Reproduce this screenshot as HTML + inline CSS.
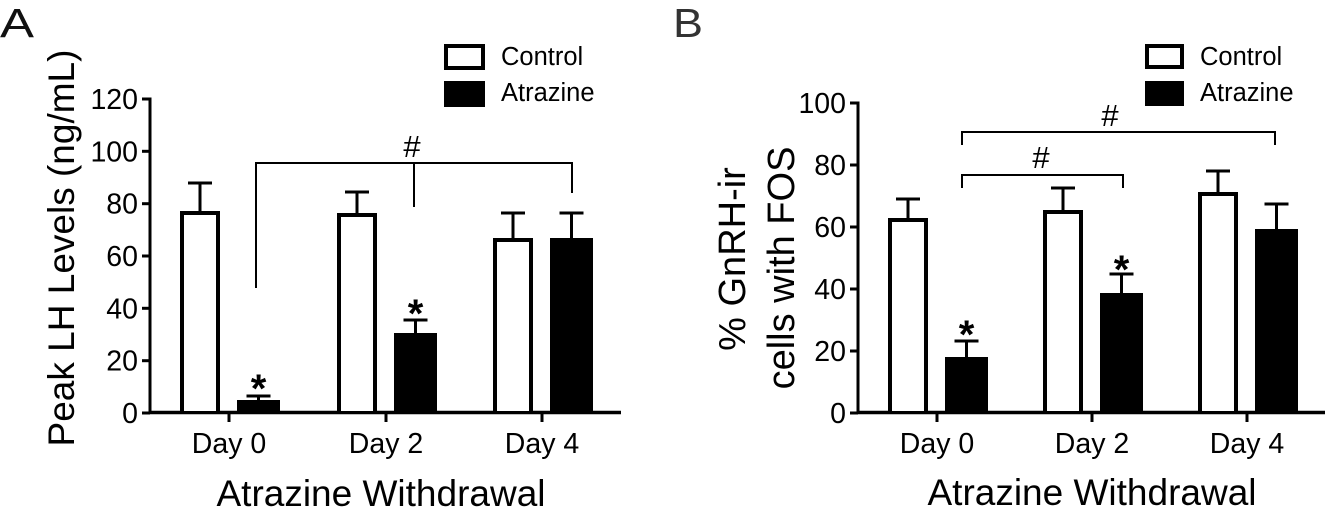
<!DOCTYPE html>
<html>
<head>
<meta charset="utf-8">
<style>
html,body{margin:0;padding:0;background:#fff;}
svg{display:block;}
text{font-family:"Liberation Sans",Arial,Helvetica,sans-serif;fill:#000;}
</style>
</head>
<body>
<svg width="1325" height="511" viewBox="0 0 1325 511" xmlns="http://www.w3.org/2000/svg">
<rect x="0" y="0" width="1325" height="511" fill="#fff"/>

<!-- Panel letters -->
<text x="0" y="37" font-size="41" textLength="34" lengthAdjust="spacingAndGlyphs" style="fill:#111">A</text>
<text x="673" y="37" font-size="41" textLength="30" lengthAdjust="spacingAndGlyphs" style="fill:#333">B</text>

<!-- ================= PANEL A ================= -->
<text transform="translate(74,248) rotate(-90)" text-anchor="middle" font-size="37">Peak LH Levels (ng/mL)</text>

<g stroke="#000" fill="none">
  <line x1="150" y1="97.5" x2="150" y2="414" stroke-width="3"/>
  <line x1="148.5" y1="412.5" x2="621" y2="412.5" stroke-width="3.5"/>
  <line x1="142" y1="99" x2="150" y2="99" stroke-width="3"/>
  <line x1="142" y1="151.3" x2="150" y2="151.3" stroke-width="3"/>
  <line x1="142" y1="203.7" x2="150" y2="203.7" stroke-width="3"/>
  <line x1="142" y1="256" x2="150" y2="256" stroke-width="3"/>
  <line x1="142" y1="308.3" x2="150" y2="308.3" stroke-width="3"/>
  <line x1="142" y1="360.7" x2="150" y2="360.7" stroke-width="3"/>
  <line x1="142" y1="413" x2="150" y2="413" stroke-width="3"/>
  <line x1="229" y1="413" x2="229" y2="422" stroke-width="3"/>
  <line x1="386" y1="413" x2="386" y2="422" stroke-width="3"/>
  <line x1="542" y1="413" x2="542" y2="422" stroke-width="3"/>
</g>
<g font-size="28.5" text-anchor="end">
  <text x="138" y="109">120</text>
  <text x="138" y="161.3">100</text>
  <text x="138" y="213.7">80</text>
  <text x="138" y="266">60</text>
  <text x="138" y="318.3">40</text>
  <text x="138" y="370.7">20</text>
  <text x="138" y="423">0</text>
</g>
<g font-size="28.5" text-anchor="middle">
  <text x="229" y="453">Day 0</text>
  <text x="386" y="453">Day 2</text>
  <text x="542" y="453">Day 4</text>
</g>
<text x="381" y="506" font-size="37" text-anchor="middle">Atrazine Withdrawal</text>

<g stroke="#000" stroke-width="3" fill="none">
  <line x1="200" y1="183" x2="200" y2="212"/><line x1="188" y1="183" x2="212" y2="183"/>
  <line x1="258.5" y1="396" x2="258.5" y2="401"/><line x1="246.5" y1="396" x2="270.5" y2="396"/>
  <line x1="357" y1="192" x2="357" y2="214"/><line x1="345" y1="192" x2="369" y2="192"/>
  <line x1="415.5" y1="320" x2="415.5" y2="334"/><line x1="403.5" y1="320" x2="427.5" y2="320"/>
  <line x1="513" y1="213" x2="513" y2="239"/><line x1="501" y1="213" x2="525" y2="213"/>
  <line x1="571.5" y1="213" x2="571.5" y2="239"/><line x1="559.5" y1="213" x2="583.5" y2="213"/>
</g>
<g>
  <rect x="180" y="211" width="40" height="202" fill="#000"/><rect x="184" y="215" width="32" height="196" fill="#fff"/>
  <rect x="237" y="400" width="43" height="13" fill="#000"/>
  <rect x="337" y="213" width="40" height="200" fill="#000"/><rect x="341" y="217" width="32" height="194" fill="#fff"/>
  <rect x="394" y="333" width="43" height="80" fill="#000"/>
  <rect x="493" y="238" width="40" height="175" fill="#000"/><rect x="497" y="242" width="32" height="169" fill="#fff"/>
  <rect x="550" y="238" width="43" height="175" fill="#000"/>
</g>
<path d="M256 288 V163 H572 V193 M414 163 V207" stroke="#000" stroke-width="2" fill="none"/>
<text x="412" y="157" font-size="31" text-anchor="middle">#</text>
<g font-size="40" font-weight="bold" text-anchor="middle">
  <text x="258.5" y="402">*</text>
  <text x="415.5" y="327">*</text>
</g>
<rect x="446" y="46" width="37" height="22" fill="#fff" stroke="#000" stroke-width="4"/>
<rect x="444" y="81" width="41" height="26" fill="#000"/>
<text x="501" y="65" font-size="25.5">Control</text>
<text x="501" y="101" font-size="25.5">Atrazine</text>

<!-- ================= PANEL B ================= -->
<text transform="translate(745,259) rotate(-90)" text-anchor="middle" font-size="38">% GnRH-ir</text>
<text transform="translate(794,268) rotate(-90)" text-anchor="middle" font-size="38">cells with FOS</text>

<g stroke="#000" fill="none">
  <line x1="858" y1="101.5" x2="858" y2="414" stroke-width="3"/>
  <line x1="856.5" y1="412.5" x2="1325" y2="412.5" stroke-width="3.5"/>
  <line x1="850" y1="103" x2="858" y2="103" stroke-width="3"/>
  <line x1="850" y1="165" x2="858" y2="165" stroke-width="3"/>
  <line x1="850" y1="227" x2="858" y2="227" stroke-width="3"/>
  <line x1="850" y1="289" x2="858" y2="289" stroke-width="3"/>
  <line x1="850" y1="351" x2="858" y2="351" stroke-width="3"/>
  <line x1="850" y1="413" x2="858" y2="413" stroke-width="3"/>
  <line x1="937" y1="413" x2="937" y2="422" stroke-width="3"/>
  <line x1="1092" y1="413" x2="1092" y2="422" stroke-width="3"/>
  <line x1="1247" y1="413" x2="1247" y2="422" stroke-width="3"/>
</g>
<g font-size="28.5" text-anchor="end">
  <text x="846" y="113">100</text>
  <text x="846" y="175">80</text>
  <text x="846" y="237">60</text>
  <text x="846" y="299">40</text>
  <text x="846" y="361">20</text>
  <text x="846" y="423">0</text>
</g>
<g font-size="28.5" text-anchor="middle">
  <text x="937" y="453">Day 0</text>
  <text x="1092" y="453">Day 2</text>
  <text x="1247" y="453">Day 4</text>
</g>
<text x="1092" y="505" font-size="37" text-anchor="middle">Atrazine Withdrawal</text>

<g stroke="#000" stroke-width="3" fill="none">
  <line x1="908" y1="199" x2="908" y2="219"/><line x1="896" y1="199" x2="920" y2="199"/>
  <line x1="966.5" y1="341" x2="966.5" y2="358"/><line x1="954.5" y1="341" x2="978.5" y2="341"/>
  <line x1="1063" y1="188" x2="1063" y2="211"/><line x1="1051" y1="188" x2="1075" y2="188"/>
  <line x1="1121.5" y1="274" x2="1121.5" y2="294"/><line x1="1109.5" y1="274" x2="1133.5" y2="274"/>
  <line x1="1218" y1="171" x2="1218" y2="193"/><line x1="1206" y1="171" x2="1230" y2="171"/>
  <line x1="1276.5" y1="204" x2="1276.5" y2="230"/><line x1="1264.5" y1="204" x2="1288.5" y2="204"/>
</g>
<g>
  <rect x="888" y="218" width="40" height="195" fill="#000"/><rect x="892" y="222" width="32" height="189" fill="#fff"/>
  <rect x="945" y="357" width="43" height="56" fill="#000"/>
  <rect x="1043" y="210" width="40" height="203" fill="#000"/><rect x="1047" y="214" width="32" height="197" fill="#fff"/>
  <rect x="1100" y="293" width="43" height="120" fill="#000"/>
  <rect x="1198" y="192" width="40" height="221" fill="#000"/><rect x="1202" y="196" width="32" height="215" fill="#fff"/>
  <rect x="1255" y="229" width="43" height="184" fill="#000"/>
</g>
<path d="M962 145 V132 H1275 V145 M962 188 V175 H1123 V188" stroke="#000" stroke-width="2" fill="none"/>
<text x="1110" y="126" font-size="31" text-anchor="middle">#</text>
<text x="1041" y="168" font-size="31" text-anchor="middle">#</text>
<g font-size="40" font-weight="bold" text-anchor="middle">
  <text x="966.5" y="348">*</text>
  <text x="1121.5" y="283">*</text>
</g>
<rect x="1147" y="46" width="35" height="21" fill="#fff" stroke="#000" stroke-width="4"/>
<rect x="1145" y="81" width="39" height="25" fill="#000"/>
<text x="1200" y="65" font-size="25.5">Control</text>
<text x="1200" y="101" font-size="25.5">Atrazine</text>
</svg>
</body>
</html>
